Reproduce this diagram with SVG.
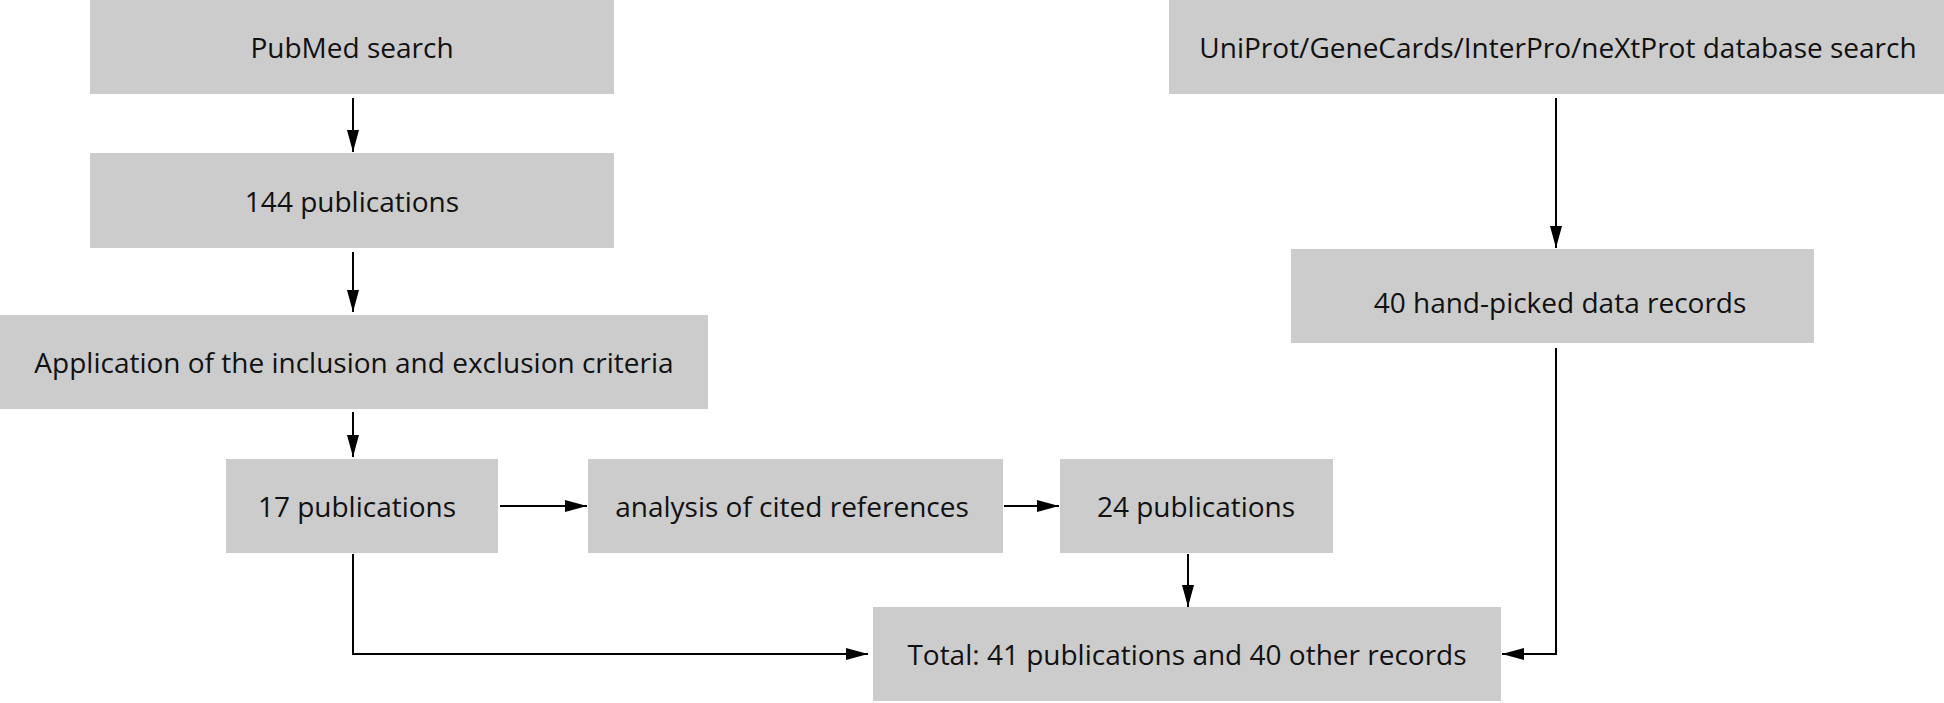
<svg xmlns="http://www.w3.org/2000/svg" width="1944" height="703" viewBox="0 0 1944 703">
<style>
.b{fill:#cccccc}
.t{font-family:"Open Sans","Liberation Sans",sans-serif;font-size:28px;fill:#111;text-anchor:middle;dominant-baseline:central}
.c{fill:none;stroke:#000;stroke-width:2;marker-end:url(#a)}
</style>
<defs><marker id="a" markerWidth="24" markerHeight="12" refX="22" refY="6" orient="auto" markerUnits="userSpaceOnUse"><path d="M0,0 L22,6 L0,12 Z" fill="#000"/></marker></defs>
<rect width="1944" height="703" fill="#fff"/>
<g id="pubmed"><rect class="b" x="90" y="0" width="524" height="94"/><text class="t" x="352" y="47">PubMed search</text></g>
<g id="p144"><rect class="b" x="90" y="153" width="524" height="95"/><text class="t" x="352" y="201">144 publications</text></g>
<g id="criteria"><rect class="b" x="0" y="315" width="708" height="94"/><text class="t" x="354" y="362">Application of the inclusion and exclusion criteria</text></g>
<g id="p17"><rect class="b" x="226" y="459" width="272" height="94"/><text class="t" x="357" y="506">17 publications</text></g>
<g id="analysis"><rect class="b" x="588" y="459" width="415" height="94"/><text class="t" x="792" y="506">analysis of cited references</text></g>
<g id="p24"><rect class="b" x="1060" y="459" width="273" height="94"/><text class="t" x="1196" y="506">24 publications</text></g>
<g id="total"><rect class="b" x="873" y="607" width="628" height="94"/><text class="t" x="1187" y="654">Total: 41 publications and 40 other records</text></g>
<g id="uniprot"><rect class="b" x="1169" y="0" width="775" height="94"/><text class="t" x="1558" y="47">UniProt/GeneCards/InterPro/neXtProt database search</text></g>
<g id="hand"><rect class="b" x="1291" y="249" width="523" height="94"/><text class="t" x="1560" y="302">40 hand-picked data records</text></g>
<g id="connectors">
<path class="c" d="M353,98 V152"/>
<path class="c" d="M353,252 V312"/>
<path class="c" d="M353,412 V457"/>
<path class="c" d="M500,506 H587"/>
<path class="c" d="M1004,506 H1059"/>
<path class="c" d="M1188,554 V607"/>
<path class="c" d="M353,554 V654 H868"/>
<path class="c" d="M1556,348 V654 H1502"/>
<path class="c" d="M1556,98 V248"/>
</g>
</svg>
